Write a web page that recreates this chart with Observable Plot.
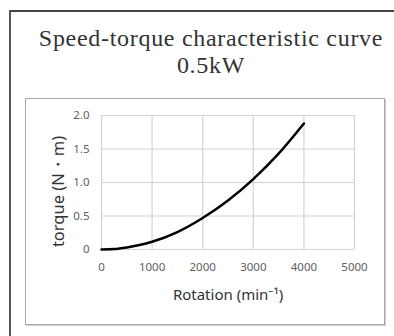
<!DOCTYPE html>
<html>
<head>
<meta charset="utf-8">
<script src="https://cdn.jsdelivr.net/npm/d3@7"></script>
<script src="https://cdn.jsdelivr.net/npm/@observablehq/plot@0.6"></script>
<style>
  html, body { margin: 0; padding: 0; background: #fff; }
  #wrap { position: relative; width: 394px; height: 336px; overflow: hidden; background: #fff; }
  #outer { position: absolute; left: 9px; top: 10px; width: 420px; height: 400px;
           border-left: 2px solid #555; border-top: 2px solid #444; box-sizing: border-box; }
  #title { position: absolute; left: 9px; top: 25px; width: 404px; text-align: center;
           font-family: "Liberation Serif", serif; font-size: 24px; line-height: 27px; color: #333;
           letter-spacing: 0.7px; }
  #inner { position: absolute; left: 25px; top: 98px; width: 360px; height: 227px;
           border: 1px solid #aaa; box-shadow: 1px 1px 0 #ccc; box-sizing: border-box; }
  #plot { position: absolute; left: 25px; top: 98px; }
</style>
</head>
<body>
<div id="wrap">
  <div id="outer"></div>
  <div id="title">Speed-torque characteristic curve<br>0.5kW</div>
  <div id="inner"></div>
  <div id="plot"></div>
</div>
<script>
const rotation = [0, 250, 500, 750, 1000, 1500, 2000, 2500, 3000, 3500, 4000];
const torque   = [0, 0.006, 0.03, 0.066, 0.115, 0.26, 0.47, 0.73, 1.05, 1.43, 1.88];
const xTicks = [0, 1000, 2000, 3000, 4000, 5000];
const xTickLabels = ["0", "1000", "2000", "3000", "4000", "5000"];
const yTicks = [0, 0.5, 1.0, 1.5, 2.0];
const yTickLabels = ["0", "0.5", "1.0", "1.5", "2.0"];
const xLabel = "Rotation (min⁻¹)";
const yLabel = "torque (N・m)";

const data = rotation.map((r, i) => ({rotation: r, torque: torque[i]}));

const chart = Plot.plot({
  width: 360,
  height: 227,
  marginLeft: 76,
  marginRight: 31,
  marginTop: 17,
  marginBottom: 76,
  style: {fontFamily: "'Noto Sans', sans-serif", fontSize: "11.5px", color: "#606060", background: "transparent"},
  x: {domain: [0, 5000], ticks: xTicks, tickSize: 0, tickPadding: 13, label: null,
      tickFormat: d => xTickLabels[xTicks.indexOf(d)]},
  y: {domain: [0, 2], ticks: yTicks, tickSize: 0, tickPadding: 12, label: null,
      tickFormat: d => yTickLabels[yTicks.indexOf(d)]},
  marks: [
    Plot.gridX(xTicks, {stroke: "#d4d4d4", strokeOpacity: 1, strokeWidth: 1.2}),
    Plot.gridY(yTicks, {stroke: "#d4d4d4", strokeOpacity: 1, strokeWidth: 1.2}),
    Plot.line(data, {x: "rotation", y: "torque", stroke: "#000", strokeWidth: 2.5, curve: "monotone-x"}),
    Plot.text([xLabel], {frameAnchor: "bottom", lineAnchor: "middle", textAnchor: "middle", dy: 46, text: d => d,
      fontSize: 15, fill: "#333"}),
    Plot.text([yLabel], {frameAnchor: "left", lineAnchor: "middle", textAnchor: "middle", rotate: -90, dx: -43, dy: 9, text: d => d,
      fontSize: 16.5, fill: "#333"})
  ]
});
document.getElementById("plot").appendChild(chart);
</script>
</body>
</html>
